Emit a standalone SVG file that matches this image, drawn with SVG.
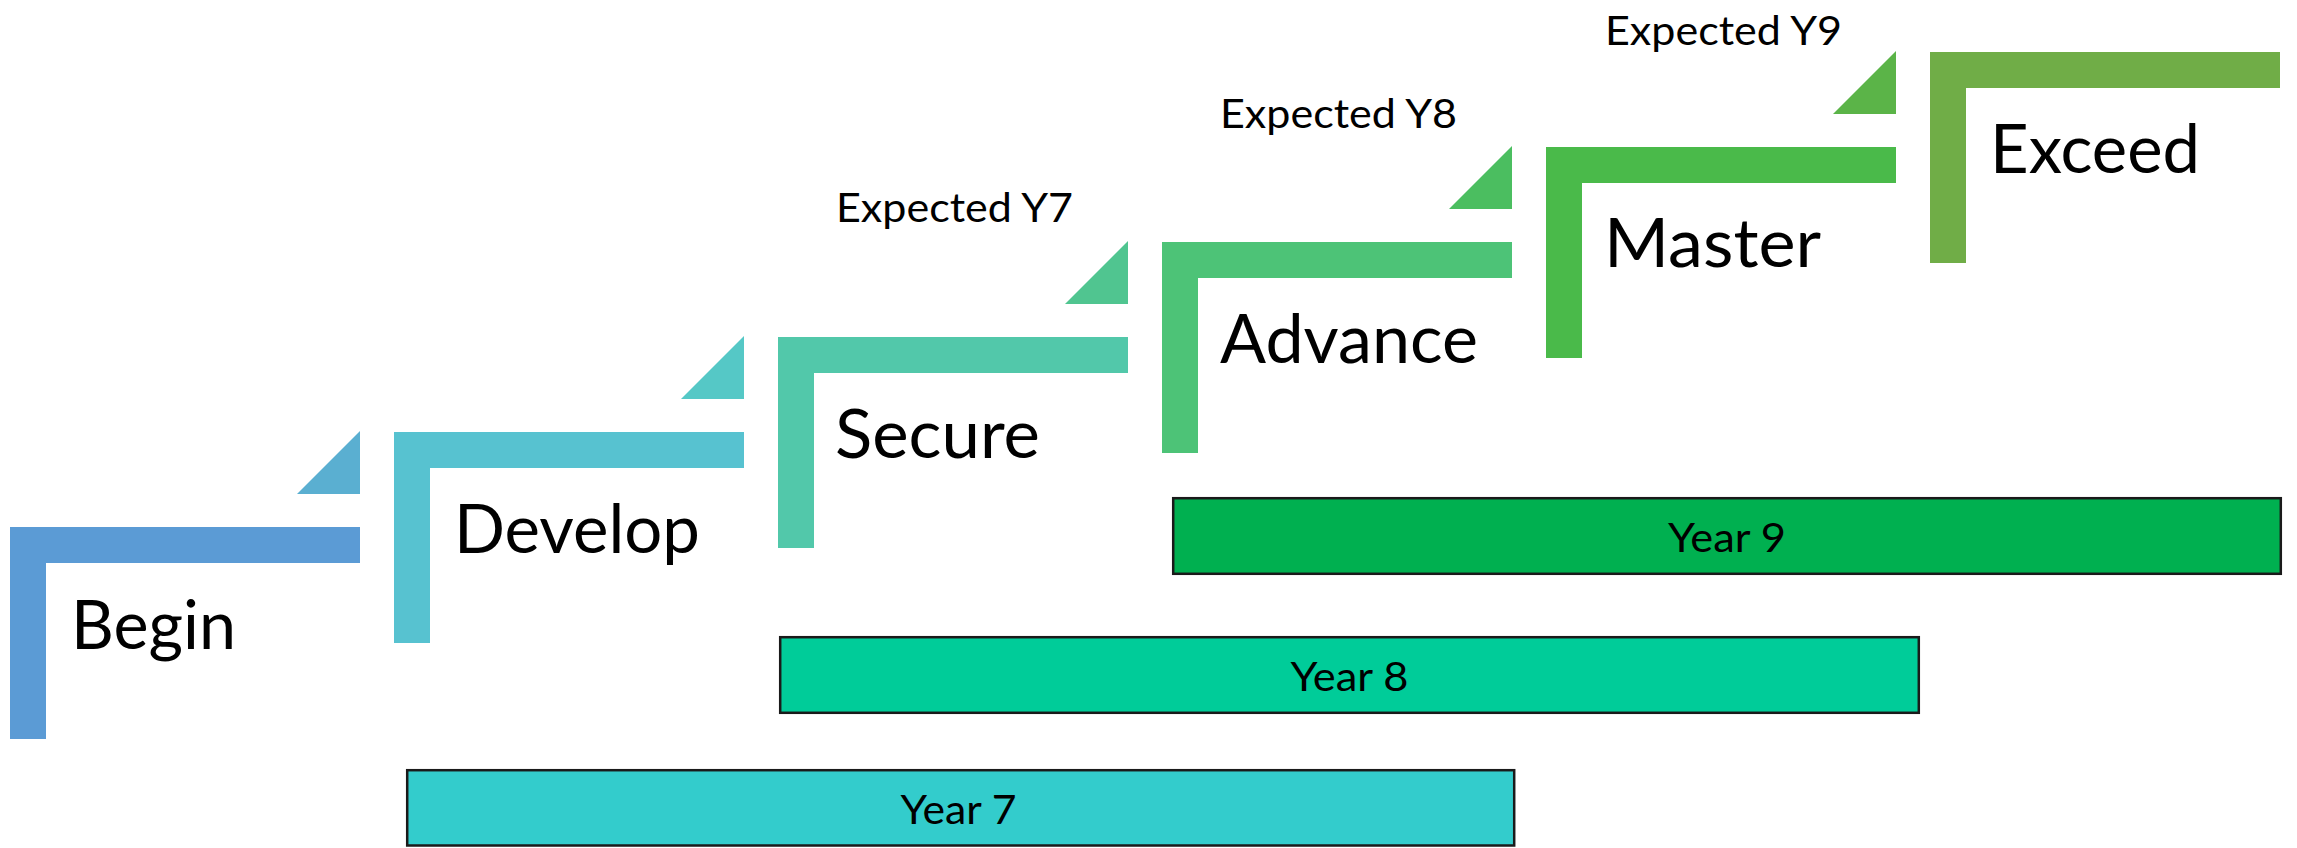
<svg xmlns="http://www.w3.org/2000/svg" width="2297" height="848" viewBox="0 0 2297 848">
<style>
.lbl{font-family:Lato,"Open Sans","Liberation Sans",sans-serif;font-size:67px;fill:#000}
.exp{font-family:Lato,"Open Sans","Liberation Sans",sans-serif;font-size:41px;fill:#000}
.yr{font-family:Lato,"Open Sans","Liberation Sans",sans-serif;font-size:41px;fill:#000;text-anchor:middle}
.bar{stroke:#1a1a1a;stroke-width:2.5}
</style>
<rect width="2297" height="848" fill="#fff"/>
<g id="step-begin">
<path d="M10,527 H360 V563 H46 V739 H10 Z" fill="#5B9BD5"/>
<text class="lbl" x="71" y="648.5" textLength="165" lengthAdjust="spacingAndGlyphs">Begin</text>
</g>
<g id="step-develop">
<polygon points="360,431 360,494 297,494" fill="#5AAFD1"/>
<path d="M394,432 H744 V468 H430 V643 H394 Z" fill="#57C2D0"/>
<text class="lbl" x="454" y="553.3" textLength="246" lengthAdjust="spacingAndGlyphs">Develop</text>
</g>
<g id="step-secure">
<polygon points="744,336 744,399 681,399" fill="#55C8C6"/>
<path d="M778,337 H1128 V373 H814 V548 H778 Z" fill="#52C8AA"/>
<text class="lbl" x="835" y="458" textLength="205" lengthAdjust="spacingAndGlyphs">Secure</text>
<text class="exp" x="836" y="222" textLength="237" lengthAdjust="spacingAndGlyphs">Expected Y7</text>
</g>
<g id="step-advance">
<polygon points="1128,241 1128,304 1065,304" fill="#50C590"/>
<path d="M1162,242 H1512 V278 H1198 V453 H1162 Z" fill="#4DC377"/>
<text class="lbl" x="1220" y="362.5" textLength="258" lengthAdjust="spacingAndGlyphs">Advance</text>
<text class="exp" x="1220" y="128.3" textLength="237" lengthAdjust="spacingAndGlyphs">Expected Y8</text>
</g>
<g id="step-master">
<polygon points="1512,146 1512,209 1449,209" fill="#4BBE60"/>
<path d="M1546,147 H1896 V183 H1582 V358 H1546 Z" fill="#4ABA4A"/>
<text class="lbl" x="1604" y="267.3" textLength="217" lengthAdjust="spacingAndGlyphs">Master</text>
<text class="exp" x="1605" y="45" textLength="237" lengthAdjust="spacingAndGlyphs">Expected Y9</text>
</g>
<g id="step-exceed">
<polygon points="1896,51 1896,114 1833,114" fill="#5BB448"/>
<path d="M1930,52 H2280 V88 H1966 V263 H1930 Z" fill="#70AD47"/>
<text class="lbl" x="1990" y="172.7" textLength="210" lengthAdjust="spacingAndGlyphs">Exceed</text>
</g>
<g id="bar-year9">
<rect class="bar" x="1173.2" y="498.2" width="1107.6" height="75.6" fill="#00B050"/>
<text class="yr" x="1727" y="551.7" textLength="118" lengthAdjust="spacingAndGlyphs">Year 9</text>
</g>
<g id="bar-year8">
<rect class="bar" x="780.2" y="637.2" width="1138.6" height="75.6" fill="#00CC99"/>
<text class="yr" x="1349.4" y="690.7" textLength="118" lengthAdjust="spacingAndGlyphs">Year 8</text>
</g>
<g id="bar-year7">
<rect class="bar" x="407.2" y="770.2" width="1107" height="75.3" fill="#33CCCC"/>
<text class="yr" x="958.5" y="824" textLength="116" lengthAdjust="spacingAndGlyphs">Year 7</text>
</g>
<g id="connectors"></g>
</svg>
